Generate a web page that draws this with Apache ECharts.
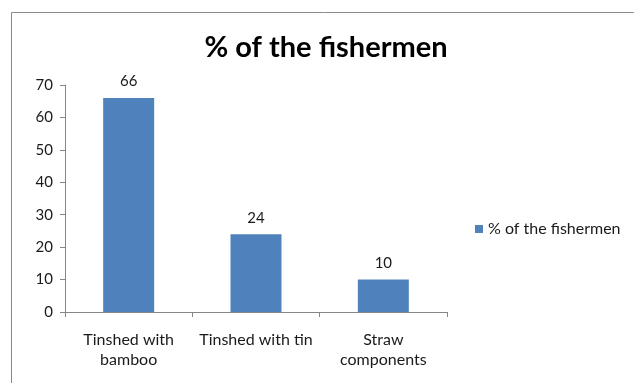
<!DOCTYPE html>
<html>
<head>
<meta charset="utf-8">
<script src="https://cdn.jsdelivr.net/npm/echarts@6/dist/echarts.min.js"></script>
<style>
  html, body { margin: 0; padding: 0; background: #fff; }
  #chart { width: 634px; height: 383px; }
</style>
</head>
<body>
<div id="chart"></div>
<script>
const categories = ['Tinshed with\nbamboo', 'Tinshed with tin', 'Straw\ncomponents'];
const seriesName = '% of the fishermen';
const values = [66, 24, 10];
const yTicks = { min: 0, max: 70, interval: 10 };

const font = 'Lato, "Liberation Sans", sans-serif';
const chart = echarts.init(document.getElementById('chart'));
chart.setOption({
  backgroundColor: '#fff',
  animation: false,
  graphic: [{
    type: 'rect',
    shape: { x: 11.5, y: 12.5, width: 640, height: 400 },
    style: { fill: 'none', stroke: '#8a8a8a', lineWidth: 1 },
    silent: true
  }],
  title: {
    text: seriesName,
    left: 321, top: 28, textAlign: 'center',
    textStyle: { fontFamily: font, fontSize: 29, fontWeight: 'bold', color: '#000' }
  },
  legend: {
    data: [seriesName],
    left: 475, top: 221, padding: 0,
    itemWidth: 8, itemHeight: 8, itemGap: 6,
    icon: 'rect',
    textStyle: { fontFamily: font, fontSize: 16, color: '#1a1a1a' }
  },
  grid: { left: 65, right: 187, top: 85, bottom: 71, containLabel: false },
  xAxis: {
    type: 'category',
    data: categories,
    axisLine: { lineStyle: { color: '#868686' } },
    axisTick: { show: true, length: 5, lineStyle: { color: '#868686' } },
    axisLabel: { fontFamily: font, fontSize: 16, color: '#1a1a1a', margin: 18, lineHeight: 20, interval: 0 }
  },
  yAxis: {
    type: 'value',
    min: yTicks.min, max: yTicks.max, interval: yTicks.interval,
    axisLine: { show: true, lineStyle: { color: '#868686' } },
    axisTick: { show: true, length: 5, lineStyle: { color: '#868686' } },
    splitLine: { show: false },
    axisLabel: { fontFamily: font, fontSize: 15, color: '#1a1a1a', margin: 12 }
  },
  series: [{
    name: seriesName,
    type: 'bar',
    data: values,
    barWidth: 51,
    itemStyle: { color: '#4F81BD' },
    label: { show: true, position: 'top', distance: 9, fontFamily: font, fontSize: 15, color: '#1a1a1a' }
  }]
});
</script>
</body>
</html>
